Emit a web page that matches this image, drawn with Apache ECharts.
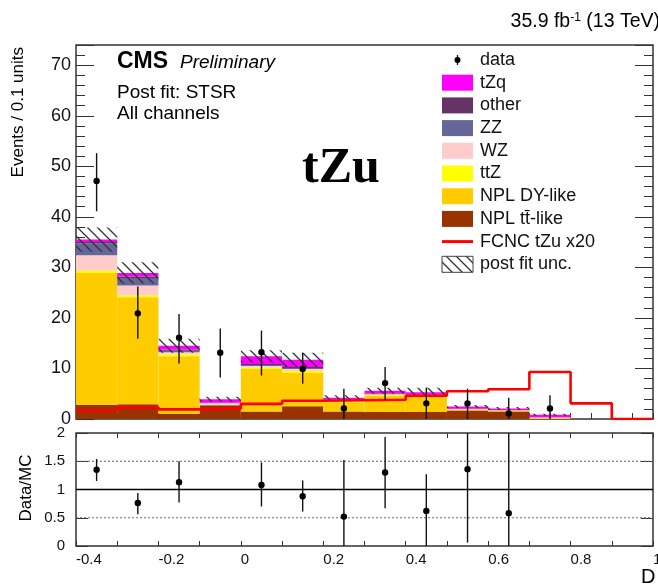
<!DOCTYPE html>
<html><head><meta charset="utf-8">
<script src="https://cdn.jsdelivr.net/npm/echarts@6.0.0/dist/echarts.min.js"></script>
<style>html,body{margin:0;padding:0;background:#fff}#c{width:658px;height:585px}</style>
</head><body><div id="c"></div>
<script>
// ---- data ----
const binEdges = [-0.4, -0.3, -0.2, -0.1, 0.0, 0.1, 0.2, 0.3, 0.4, 0.5, 0.6, 0.7, 0.8, 0.9, 1.0];
const nplTT  = [2.8, 2.9, 1.0, 2.7, 1.5, 2.5, 1.5, 1.4, 1.4, 1.7, 1.5, 0.0, 0, 0];
const nplDY  = [26.1, 21.2, 11.4, 0.05, 8.4, 6.6, 1.8, 3.2, 3.0, 0.15, 0.15, 0.05, 0, 0];
const ttZ    = [0.5, 0.4, 0.4, 0.05, 0.3, 0.4, 0.2, 0.2, 0.2, 0.1, 0.05, 0.2, 0, 0];
const WZ     = [3.0, 1.9, 0.4, 0.3, 0.3, 0.4, 0.1, 0.1, 0.1, 0.05, 0.03, 0.05, 0, 0];
const ZZ     = [2.3, 1.5, 0.3, 0.05, 0.2, 0.2, 0.1, 0.05, 0.05, 0.02, 0.02, 0.02, 0, 0];
const other  = [0.3, 0.3, 0.2, 0.05, 0.2, 0.2, 0.1, 0.05, 0.05, 0.03, 0.02, 0.03, 0, 0];
const tZq    = [0.5, 0.7, 0.8, 0.7, 1.5, 1.4, 0.4, 0.6, 0.5, 0.4, 0.3, 0.5, 0, 0];
const postFitUnc = [2.4, 2.1, 1.4, 0.5, 1.2, 1.4, 0.5, 0.6, 0.9, 0.3, 0.3, 0.2, 0, 0];
const fcncTZu20 = [1.7, 2.3, 1.9, 2.1, 3.0, 3.6, 3.7, 3.8, 4.6, 5.5, 5.9, 9.3, 3.1, 0.0];
const dataY  = [47.1, 20.9, 16.1, 13.1, 13.2, 9.9, 2.1, 7.1, 3.1, 3.1, 1.1, 2.1, null, null];
const dataUp = [5.5, 5.3, 4.7, 4.8, 4.3, 3.2, 3.9, 3.2, 3.1, 2.9, 3.1, 2.6, null, null];
const dataDn = [6.0, 5.0, 5.1, 4.9, 4.6, 2.9, 2.1, 3.3, 3.1, 3.1, 1.1, 2.1, null, null];
const ratioY  = [1.35, 0.76, 1.13, null, 1.08, 0.88, 0.52, 1.30, 0.62, 1.36, 0.58, null, null, null];
const ratioUp = [0.19, 0.18, 0.37, null, 0.40, 0.28, 1.00, 0.63, 0.65, 1.00, 1.60, null, null, null];
const ratioDn = [0.20, 0.20, 0.36, null, 0.38, 0.27, 0.52, 0.63, 0.62, 1.30, 0.58, null, null, null];
const ratioRefLines = [0.5, 1.0, 1.5];
const legendNames = ['data', 'tZq', 'other', 'ZZ', 'WZ', 'ttZ', 'NPL DY-like', 'NPL tt\u0304-like', 'FCNC tZu x20', 'post fit unc.'];

// ---- styles ----
const FONT = '"Liberation Sans", Arial, Helvetica, sans-serif';
const stackDefs = [
  {name: 'NPL tt\u0304-like', vals: nplTT, color: '#993300'},
  {name: 'NPL DY-like', vals: nplDY, color: '#ffcc00'},
  {name: 'ttZ', vals: ttZ, color: '#ffff00'},
  {name: 'WZ', vals: WZ, color: '#ffcccc'},
  {name: 'ZZ', vals: ZZ, color: '#666699'},
  {name: 'other', vals: other, color: '#663366'},
  {name: 'tZq', vals: tZq, color: '#ff00ff'}
];

const pc = document.createElement('canvas');
pc.width = 10; pc.height = 10;
const g = pc.getContext('2d');
g.strokeStyle = '#333'; g.lineWidth = 1.3; g.beginPath();
g.moveTo(0, 0); g.lineTo(10, 10);
g.moveTo(-5, 5); g.lineTo(5, 15);
g.moveTo(5, -5); g.lineTo(15, 5);
g.stroke();
const hatch = {image: pc, repeat: 'repeat'};

const nBins = binEdges.length - 1;
const base = new Array(nBins).fill(0);
const series = [];

function rectItem(params, api, fill) {
  const p0 = api.coord([api.value(0), api.value(3)]);
  const p1 = api.coord([api.value(1), api.value(2)]);
  return {type: 'rect', shape: {x: p0[0], y: p0[1], width: p1[0] - p0[0], height: p1[1] - p0[1]}, style: {fill: fill}};
}

stackDefs.forEach(d => {
  const data = [];
  for (let i = 0; i < nBins; i++) {
    if (d.vals[i] > 0) data.push([binEdges[i], binEdges[i + 1], base[i], base[i] + d.vals[i]]);
    base[i] += d.vals[i];
  }
  series.push({
    type: 'custom', name: d.name, xAxisIndex: 0, yAxisIndex: 0, silent: true,
    encode: {x: [0, 1], y: [2, 3]}, data: data,
    renderItem: (p, api) => rectItem(p, api, d.color)
  });
});

const uncData = [];
for (let i = 0; i < nBins; i++) {
  if (postFitUnc[i] > 0) uncData.push([binEdges[i], binEdges[i + 1], base[i] - postFitUnc[i], base[i] + postFitUnc[i]]);
}
series.push({
  type: 'custom', name: 'post fit unc.', xAxisIndex: 0, yAxisIndex: 0, silent: true,
  encode: {x: [0, 1], y: [2, 3]}, data: uncData,
  renderItem: (p, api) => rectItem(p, api, hatch)
});

series.push({
  type: 'line', name: 'FCNC tZu x20', xAxisIndex: 0, yAxisIndex: 0, step: 'end', symbol: 'none', silent: true,
  lineStyle: {color: '#ff0000', width: 2.6},
  data: binEdges.map((e, i) => [e, fcncTZu20[Math.min(i, nBins - 1)]])
});

function errItem(params, api) {
  const x = api.value(0), y = api.value(1), up = api.value(2), dn = api.value(3);
  const cs = params.coordSys;
  const c = api.coord([x, y]);
  let top = api.coord([x, y + up])[1];
  let bot = api.coord([x, y - dn])[1];
  top = Math.max(top, cs.y); bot = Math.min(bot, cs.y + cs.height);
  return {type: 'group', children: [
    {type: 'line', shape: {x1: c[0], y1: top, x2: c[0], y2: bot}, style: {stroke: '#111', lineWidth: 1.4}},
    {type: 'circle', shape: {cx: c[0], cy: c[1], r: 3.2}, style: {fill: '#000'}}
  ]};
}

function pts(ys, ups, dns) {
  const out = [];
  for (let i = 0; i < nBins; i++) {
    if (ys[i] !== null) out.push([(binEdges[i] + binEdges[i + 1]) / 2, ys[i], ups[i], dns[i]]);
  }
  return out;
}

// reference lines in ratio panel
series.push({
  type: 'custom', xAxisIndex: 1, yAxisIndex: 4, silent: true,
  data: ratioRefLines.map(v => [v]),
  renderItem: (p, api) => {
    const v = api.value(0);
    const a = api.coord([binEdges[0], v]);
    const b = api.coord([binEdges[nBins], v]);
    const solid = v === 1;
    return {type: 'line', shape: {x1: a[0], y1: a[1], x2: b[0], y2: b[1]},
      style: {stroke: solid ? '#000' : '#666', lineWidth: solid ? 1.3 : 1, lineDash: solid ? null : [2, 2]}};
  }
});

series.push({
  type: 'custom', name: 'data', xAxisIndex: 0, yAxisIndex: 0, silent: true,
  data: pts(dataY, dataUp, dataDn), renderItem: errItem, z: 5
});
series.push({
  type: 'custom', name: 'ratio', xAxisIndex: 1, yAxisIndex: 4, silent: true,
  data: pts(ratioY, ratioUp, ratioDn), renderItem: errItem, z: 5
});

// ---- legend (graphic) ----
const legendG = [];
const lx = 442, lw = 31, ly0 = 60, lstep = 22.7;
const legendColors = {'tZq': '#ff00ff', 'other': '#663366', 'ZZ': '#666699', 'WZ': '#ffcccc', 'ttZ': '#ffff00', 'NPL DY-like': '#ffcc00'};
legendColors['NPL tt\u0304-like'] = '#993300';
legendNames.forEach((nm, i) => {
  const cy = ly0 + i * lstep;
  if (nm === 'data') {
    legendG.push({type: 'line', shape: {x1: lx + lw / 2, y1: cy - 5, x2: lx + lw / 2, y2: cy + 5}, style: {stroke: '#111', lineWidth: 1.3}});
    legendG.push({type: 'circle', shape: {cx: lx + lw / 2, cy: cy, r: 3}, style: {fill: '#000'}});
  } else if (nm === 'FCNC tZu x20') {
    legendG.push({type: 'line', shape: {x1: lx, y1: cy, x2: lx + lw, y2: cy}, style: {stroke: '#ff0000', lineWidth: 3}});
  } else if (nm === 'post fit unc.') {
    legendG.push({type: 'rect', shape: {x: lx, y: cy - 8, width: lw, height: 16}, style: {fill: hatch, stroke: '#444', lineWidth: 1}});
  } else {
    legendG.push({type: 'rect', shape: {x: lx, y: cy - 8, width: lw, height: 16}, style: {fill: legendColors[nm]}});
  }
  legendG.push({type: 'text', x: 480, y: cy, style: {text: nm, font: '18px ' + FONT, fill: '#111', textVerticalAlign: 'middle'}});
});

const texts = [
  {type: 'text', x: 117, y: 62, style: {text: 'CMS', font: 'bold 23px ' + FONT, fill: '#000', textVerticalAlign: 'middle'}},
  {type: 'text', x: 180, y: 63, style: {text: 'Preliminary', font: 'italic 19px ' + FONT, fill: '#000', textVerticalAlign: 'middle'}},
  {type: 'text', x: 117, y: 93, style: {text: 'Post fit: STSR', font: '19px ' + FONT, fill: '#000', textVerticalAlign: 'middle'}},
  {type: 'text', x: 117, y: 114, style: {text: 'All channels', font: '19px ' + FONT, fill: '#000', textVerticalAlign: 'middle'}},
  {type: 'text', x: 302, y: 169, style: {text: 'tZu', font: 'bold 50px "Liberation Serif", "Times New Roman", serif', fill: '#000', textVerticalAlign: 'middle'}},
  {type: 'text', x: 660, y: 22, style: {text: '35.9 fb{sup|-1} (13 TeV)', font: '19.5px ' + FONT, fill: '#000', textAlign: 'right', textVerticalAlign: 'middle',
    rich: {sup: {fontSize: 12, fontFamily: FONT, verticalAlign: 'top', padding: [0, 0, 8, 0]}}}},
  {type: 'text', x: 18.5, y: 47, rotation: Math.PI / 2, style: {text: 'Events / 0.1 units', font: '17px ' + FONT, fill: '#000', textAlign: 'right', textVerticalAlign: 'middle'}},
  {type: 'text', x: 26, y: 488, rotation: Math.PI / 2, style: {text: 'Data/MC', font: '17px ' + FONT, fill: '#000', textAlign: 'center', textVerticalAlign: 'middle'}},
  {type: 'text', x: 641, y: 577, style: {text: 'D', font: '20px ' + FONT, fill: '#000', textVerticalAlign: 'middle'}}
];

const axisTxt = {fontFamily: FONT, color: '#111'};
const tickLine = {color: '#333', width: 1};
const noLine = {show: false, onZero: false};

const option = {
  animation: false,
  backgroundColor: '#fff',
  grid: [
    {left: 76, top: 45, width: 577, height: 374, show: true, borderColor: '#333', borderWidth: 1.5, backgroundColor: 'transparent', outerBoundsMode: 'none'},
    {left: 76, top: 433, width: 577, height: 113, show: true, borderColor: '#333', borderWidth: 1.5, backgroundColor: 'transparent', outerBoundsMode: 'none'}
  ],
  xAxis: [
    {gridIndex: 0, type: 'value', position: 'bottom', min: -0.4, max: 1.0, interval: 0.05, axisLine: noLine, splitLine: {show: false},
      axisLabel: {show: false}, axisTick: {inside: true, length: 6, lineStyle: tickLine}},
    {gridIndex: 1, type: 'value', position: 'bottom', min: -0.4, max: 1.0, interval: 0.1, axisLine: noLine, splitLine: {show: false},
      axisTick: {inside: true, length: 5, lineStyle: tickLine},
      axisLabel: Object.assign({fontSize: 15, align: 'left', margin: 6, showMinLabel: true, showMaxLabel: true,
        formatter: v => { const k = Math.round(v * 10); return (k % 2 !== 0) ? '' : String(k / 10); }}, axisTxt)},
    {gridIndex: 1, type: 'value', position: 'top', min: -0.4, max: 1.0, interval: 0.1, axisLine: noLine, splitLine: {show: false},
      axisLabel: {show: false}, axisTick: {inside: true, length: 5, lineStyle: tickLine}}
  ],
  yAxis: [
    {gridIndex: 0, type: 'value', position: 'left', min: 0, max: 74, interval: 10, axisLine: noLine, splitLine: {show: false},
      axisTick: {inside: true, length: 18, lineStyle: tickLine},
      axisLabel: Object.assign({fontSize: 18, margin: 5, formatter: v => (v % 10 === 0 ? String(v) : '')}, axisTxt)},
    {gridIndex: 0, type: 'value', position: 'left', min: 0, max: 74, interval: 2, axisLine: noLine, splitLine: {show: false},
      axisTick: {inside: true, length: 9, lineStyle: tickLine}, axisLabel: {show: false}},
    {gridIndex: 0, type: 'value', position: 'right', min: 0, max: 74, interval: 10, axisLine: noLine, splitLine: {show: false},
      axisTick: {inside: true, length: 18, lineStyle: tickLine}, axisLabel: {show: false}},
    {gridIndex: 0, type: 'value', position: 'right', min: 0, max: 74, interval: 2, axisLine: noLine, splitLine: {show: false},
      axisTick: {inside: true, length: 9, lineStyle: tickLine}, axisLabel: {show: false}},
    {gridIndex: 1, type: 'value', position: 'left', min: 0, max: 2, interval: 0.5, axisLine: noLine, splitLine: {show: false},
      axisTick: {inside: true, length: 12, lineStyle: tickLine},
      axisLabel: Object.assign({fontSize: 15, margin: 11}, axisTxt)},
    {gridIndex: 1, type: 'value', position: 'right', min: 0, max: 2, interval: 0.5, axisLine: noLine, splitLine: {show: false},
      axisTick: {inside: true, length: 12, lineStyle: tickLine}, axisLabel: {show: false}}
  ],
  series: series,
  graphic: legendG.concat(texts)
};

const chart = echarts.init(document.getElementById('c'), null, {renderer: 'canvas'});
chart.setOption(option);
</script>
</body></html>
